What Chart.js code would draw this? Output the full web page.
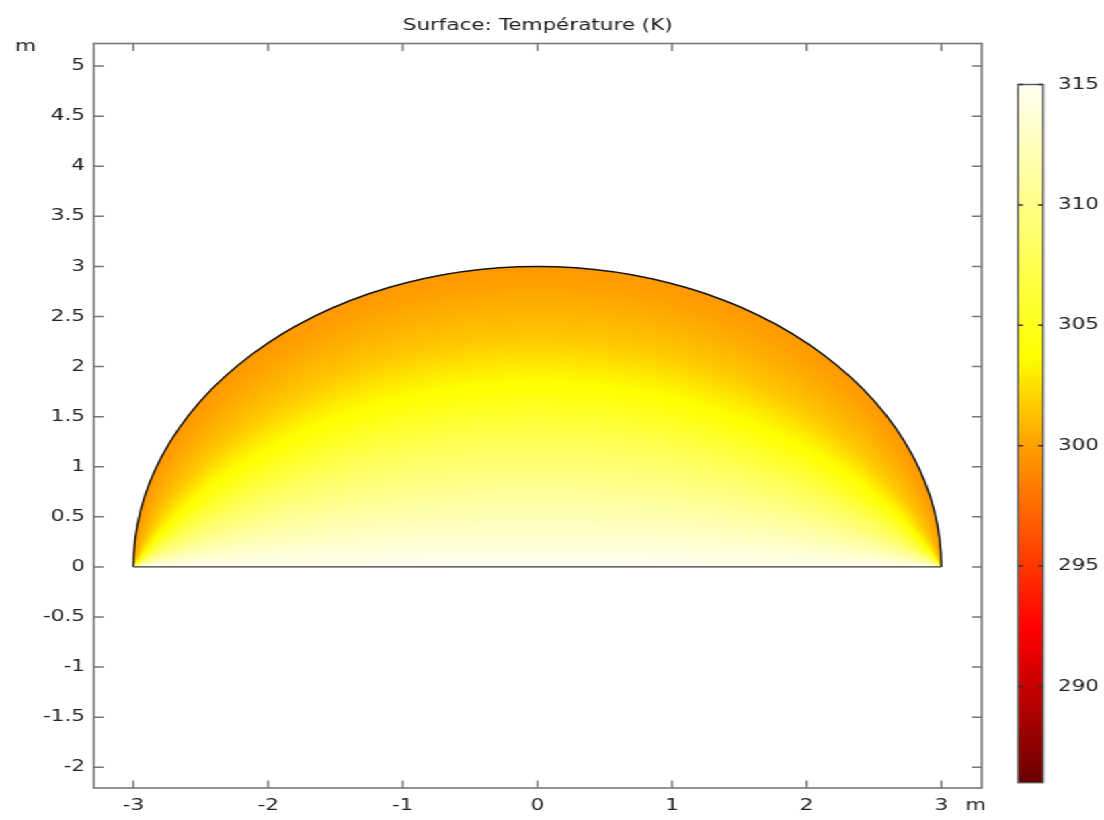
<!DOCTYPE html>
<html>
<head>
<meta charset="utf-8">
<title>Surface: Température (K)</title>
<script src="https://cdn.jsdelivr.net/npm/chart.js@4.4.1/dist/chart.umd.min.js"></script>
<style>
  html, body { margin: 0; padding: 0; background: #ffffff; overflow: hidden; }
  /* the figure is laid out at 821 px and widened to the 1104 px window */
  #figure { position: absolute; left: 0; top: 0; width: 821px; height: 820px;
            transform: scaleX(1.3447); transform-origin: 0 0; }
  #plot { position: absolute; left: 0; top: 0; }
  #colorbar { position: absolute; left: 745px; top: 0; }
</style>
</head>
<body>
<div id="figure">
  <canvas id="plot" width="821" height="820"></canvas>
  <canvas id="colorbar" width="76" height="820"></canvas>
</div>
<script>
// ---- axis ticks ----
const xTicks = [-3, -2, -1, 0, 1, 2, 3];
const yTicks = [-2, -1.5, -1, -0.5, 0, 0.5, 1, 1.5, 2, 2.5, 3, 3.5, 4, 4.5, 5];
const colorTicks = [290, 295, 300, 305, 310, 315];

// ---- domain: half disc of radius 3 m on the x axis ----
const domainRadius = 3;

// ---- temperature along the symmetry line x = 0 (m -> K) ----
// each isotherm is an arc through the two corners (±3, 0); it is
// identified by the height where it crosses x = 0
const apexHeights = [0, 0.25, 0.5, 0.75, 1.0, 1.25, 1.5, 1.75, 2.0, 2.25, 2.5, 2.75, 3.0];
const apexTemps   = [315, 313.6, 312.2, 310.8, 309.3, 307.8, 306.0, 304.1, 302.9, 301.7, 300.9, 300.2, 299.6];

// ---- colour range of the surface plot (K) ----
const tempRange = [286.0, 315];

// "thermal light" colour table: temperature -> rgb
const thermalStops = [
  [286.0, [105, 0, 0]],
  [290.0, [200, 0, 0]],
  [292.4, [255, 0, 0]],
  [300.0, [255, 160, 0]],
  [303.7, [255, 255, 0]],
  [315.0, [255, 255, 242]]
];

const FONT = { family: "'DejaVu Sans', sans-serif", size: 16 };
const TEXT = '#222222';
const FRAME = '#777777';

function thermalColor(t) {
  const s = thermalStops;
  if (t <= s[0][0]) return s[0][1];
  if (t >= s[s.length - 1][0]) return s[s.length - 1][1];
  for (let i = 1; i < s.length; i++) {
    if (t <= s[i][0]) {
      const f = (t - s[i - 1][0]) / (s[i][0] - s[i - 1][0]);
      const a = s[i - 1][1], b = s[i][1];
      return [a[0] + f * (b[0] - a[0]), a[1] + f * (b[1] - a[1]), a[2] + f * (b[2] - a[2])];
    }
  }
  return s[s.length - 1][1];
}

function tempAtApex(h) {
  if (h <= apexHeights[0]) return apexTemps[0];
  const n = apexHeights.length;
  if (h >= apexHeights[n - 1]) return apexTemps[n - 1];
  for (let i = 1; i < n; i++) {
    if (h <= apexHeights[i]) {
      const f = (h - apexHeights[i - 1]) / (apexHeights[i] - apexHeights[i - 1]);
      return apexTemps[i - 1] + f * (apexTemps[i] - apexTemps[i - 1]);
    }
  }
  return apexTemps[n - 1];
}

// height on x = 0 of the arc through (±R, 0) and (x, y)
function arcApex(x, y) {
  const R2 = domainRadius * domainRadius;
  if (y <= 1e-9) return 0;
  const c = (x * x + y * y - R2) / (2 * y);
  const s = Math.sqrt(R2 + c * c);
  return c < 0 ? R2 / (s - c) : c + s;
}

// surface plot of the temperature, clipped to the half disc, plus its outline
const surfacePlugin = {
  id: 'surface',
  beforeDatasetsDraw(chart) {
    const { ctx, scales: { x: xs, y: ys } } = chart;
    const R = domainRadius;
    const x0 = Math.floor(xs.getPixelForValue(-R)) - 2;
    const x1 = Math.ceil(xs.getPixelForValue(R)) + 2;
    const y0 = Math.floor(ys.getPixelForValue(R)) - 2;
    const y1 = Math.ceil(ys.getPixelForValue(0)) + 2;
    const w = x1 - x0, h = y1 - y0;
    const off = document.createElement('canvas');
    off.width = w; off.height = h;
    const octx = off.getContext('2d');
    const img = octx.createImageData(w, h);
    const xv = new Float64Array(w), yv = new Float64Array(h);
    for (let i = 0; i < w; i++) xv[i] = xs.getValueForPixel(x0 + i + 0.5);
    for (let j = 0; j < h; j++) yv[j] = ys.getValueForPixel(y0 + j + 0.5);
    for (let j = 0; j < h; j++) {
      for (let i = 0; i < w; i++) {
        const t = tempAtApex(arcApex(xv[i], Math.max(yv[j], 0)));
        const c = thermalColor(t);
        const k = (j * w + i) * 4;
        img.data[k] = c[0]; img.data[k + 1] = c[1]; img.data[k + 2] = c[2]; img.data[k + 3] = 255;
      }
    }
    octx.putImageData(img, 0, 0);

    const cx = xs.getPixelForValue(0), cy = ys.getPixelForValue(0);
    const rx = xs.getPixelForValue(R) - cx, ry = cy - ys.getPixelForValue(R);
    ctx.save();
    ctx.beginPath();
    ctx.ellipse(cx, cy, rx, ry, 0, Math.PI, 2 * Math.PI);
    ctx.closePath();
    ctx.clip();
    ctx.drawImage(off, x0, y0);
    ctx.restore();

    ctx.save();
    ctx.lineJoin = 'round';
    ctx.beginPath();
    ctx.ellipse(cx, cy, rx, ry, 0, Math.PI, 2 * Math.PI);
    ctx.strokeStyle = '#151515';
    ctx.lineWidth = 1.5;
    ctx.stroke();
    ctx.beginPath();
    ctx.moveTo(cx - rx, cy);
    ctx.lineTo(cx + rx, cy);
    ctx.strokeStyle = '#3a3a3a';
    ctx.lineWidth = 1.3;
    ctx.stroke();
    ctx.restore();
  },
  afterDraw(chart) {
    const { ctx, chartArea: a, scales: { x: xs, y: ys } } = chart;
    ctx.save();
    ctx.strokeStyle = FRAME;
    ctx.lineWidth = 1.6;
    ctx.strokeRect(a.left, a.top, a.right - a.left, a.bottom - a.top);
    ctx.lineWidth = 1.5;
    ctx.beginPath();
    for (const v of xTicks) {
      const p = xs.getPixelForValue(v);
      ctx.moveTo(p, a.bottom); ctx.lineTo(p, a.bottom - 7.5);
      ctx.moveTo(p, a.top); ctx.lineTo(p, a.top + 7.5);
    }
    for (const v of yTicks) {
      const p = ys.getPixelForValue(v);
      ctx.moveTo(a.left, p); ctx.lineTo(a.left + 7.4, p);
      ctx.moveTo(a.right, p); ctx.lineTo(a.right - 7.4, p);
    }
    ctx.stroke();
    // unit labels
    ctx.fillStyle = TEXT;
    ctx.font = `${FONT.size}px ${FONT.family}`;
    ctx.textBaseline = 'middle';
    ctx.textAlign = 'center';
    ctx.fillText('m', 19, 46.5);
    ctx.fillText('m', 725.5, 806);
    ctx.restore();
  }
};

new Chart(document.getElementById('plot'), {
  type: 'scatter',
  data: { datasets: [] },
  plugins: [surfacePlugin],
  options: {
    responsive: false,
    animation: false,
    devicePixelRatio: 1,
    events: [],
    layout: { padding: { left: 0, right: 90.9, top: 0, bottom: 0 } },
    plugins: {
      legend: { display: false },
      tooltip: { enabled: false },
      title: {
        display: true,
        text: 'Surface: Température (K)',
        fullSize: false,
        color: TEXT,
        font: { family: FONT.family, size: 16, weight: 'normal' },
        padding: { top: 16.5, bottom: 7.8 }
      }
    },
    scales: {
      x: {
        type: 'linear', min: -3.295, max: 3.3,
        afterBuildTicks: s => { s.ticks = xTicks.map(v => ({ value: v })); },
        afterFit: s => { s.height = 32; },
        grid: { display: false, drawTicks: false },
        border: { display: false },
        ticks: { padding: 8.4, color: TEXT, font: FONT, maxRotation: 0, autoSkip: false,
                 callback: v => String(v) }
      },
      y: {
        type: 'linear', min: -2.207, max: 5.225,
        afterBuildTicks: s => { s.ticks = yTicks.map(v => ({ value: v })); },
        afterFit: s => { s.width = 69.7; },
        grid: { display: false, drawTicks: false },
        border: { display: false },
        ticks: { padding: 6.5, color: TEXT, font: FONT, autoSkip: false,
                 callback: v => String(v) }
      }
    }
  }
});

// colour legend: gradient bar on its own temperature scale
const colorbarPlugin = {
  id: 'colorbarFill',
  beforeDatasetsDraw(chart) {
    const { ctx, chartArea: a, scales: { y: ys } } = chart;
    const g = ctx.createLinearGradient(0, ys.getPixelForValue(tempRange[0]), 0, ys.getPixelForValue(tempRange[1]));
    for (const [t, c] of thermalStops) {
      const f = (t - tempRange[0]) / (tempRange[1] - tempRange[0]);
      g.addColorStop(Math.min(1, Math.max(0, f)), `rgb(${c[0]},${c[1]},${c[2]})`);
    }
    ctx.save();
    ctx.fillStyle = g;
    ctx.fillRect(a.left, a.top, a.right - a.left, a.bottom - a.top);
    ctx.strokeStyle = '#555555';
    ctx.lineWidth = 1.4;
    ctx.strokeRect(a.left, a.top, a.right - a.left, a.bottom - a.top);
    ctx.strokeStyle = '#333333';
    ctx.lineWidth = 1.5;
    ctx.beginPath();
    for (const v of colorTicks) {
      const p = ys.getPixelForValue(v);
      ctx.moveTo(a.left, p); ctx.lineTo(a.left + 3.6, p);
      ctx.moveTo(a.right, p); ctx.lineTo(a.right - 3.6, p);
    }
    ctx.stroke();
    ctx.restore();
  }
};

new Chart(document.getElementById('colorbar'), {
  type: 'scatter',
  data: { datasets: [] },
  plugins: [colorbarPlugin],
  options: {
    responsive: false,
    animation: false,
    devicePixelRatio: 1,
    events: [],
    layout: { padding: { left: 12.1, right: 0, top: 84.5, bottom: 37.3 } },
    plugins: { legend: { display: false }, tooltip: { enabled: false }, title: { display: false } },
    scales: {
      x: { type: 'linear', display: false, min: 0, max: 1 },
      y: {
        type: 'linear', position: 'right', min: tempRange[0], max: tempRange[1],
        afterBuildTicks: s => { s.ticks = colorTicks.map(v => ({ value: v })); },
        afterFit: s => { s.width = 45.3; },
        grid: { display: false, drawTicks: false },
        border: { display: false },
        ticks: { padding: 11, color: TEXT, font: FONT, autoSkip: false, callback: v => String(v) }
      }
    }
  }
});
</script>
</body>
</html>
